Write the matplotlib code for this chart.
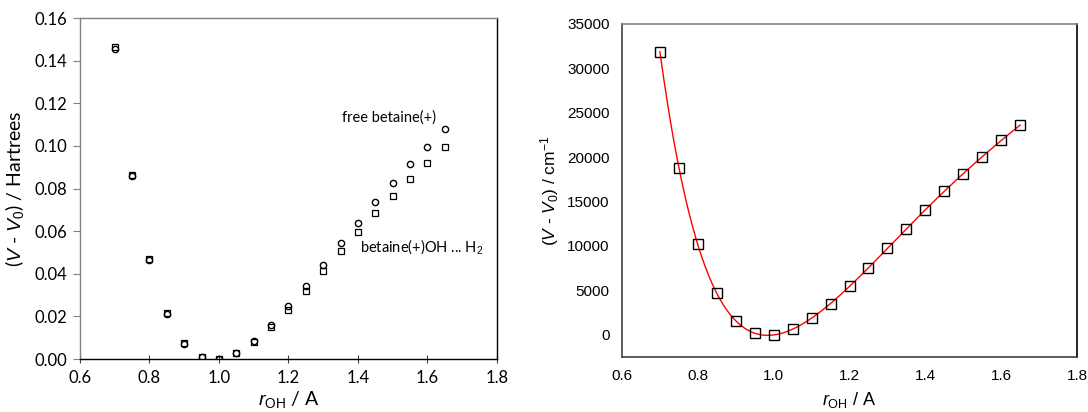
import numpy as np
import matplotlib
matplotlib.use('Agg')
import matplotlib.pyplot as plt

plt.rcParams['mathtext.fontset'] = 'custom'
plt.rcParams['mathtext.rm'] = 'Liberation Sans'
plt.rcParams['mathtext.it'] = 'Liberation Sans:italic'

r_oh = [0.70, 0.75, 0.80, 0.85, 0.90, 0.95, 1.00, 1.05, 1.10, 1.15,
        1.20, 1.25, 1.30, 1.35, 1.40, 1.45, 1.50, 1.55, 1.60, 1.65]

# Hartrees
free_betaine = [0.1455, 0.0858, 0.0465, 0.0213, 0.0072, 0.0010, 0.0000, 0.0028, 0.0083, 0.0158,
                0.0250, 0.0344, 0.0442, 0.0543, 0.0640, 0.0736, 0.0825, 0.0913, 0.0997, 0.1077]
betaine_h2 = [0.1462, 0.0865, 0.0470, 0.0218, 0.0074, 0.0011, 0.0000, 0.0026, 0.0080, 0.0150,
              0.0232, 0.0321, 0.0413, 0.0507, 0.0596, 0.0684, 0.0766, 0.0845, 0.0922, 0.0996]

# cm-1
betaine_h2_cm = [31880, 18800, 10190, 4660, 1540, 190, 0, 640, 1880, 3500,
                 5450, 7560, 9740, 11920, 14060, 16170, 18160, 20040, 21880, 23610]

fig = plt.figure(figsize=(10.88, 4.12), dpi=100)

# ---- left panel (Excel / Calibri look)
ax1 = fig.add_axes([0.0735, 0.1286, 0.3833, 0.8277])
lf = 'Lato'
ax1.plot(r_oh, free_betaine, 'o', ms=4.5, mfc='none', mec='black', mew=1.0)
ax1.plot(r_oh, betaine_h2, 's', ms=4.2, mfc='none', mec='black', mew=0.9)
ax1.set_xlim(0.6, 1.8)
ax1.set_ylim(0, 0.16)
ax1.set_xticks(np.arange(0.6, 1.81, 0.2))
ax1.set_yticks(np.arange(0, 0.161, 0.02))
ax1.set_xticklabels(['%.1f' % v for v in np.arange(0.6, 1.81, 0.2)], family=lf, fontsize=12)
ax1.set_yticklabels(['%.2f' % v for v in np.arange(0, 0.161, 0.02)], family=lf, fontsize=12)
ax1.tick_params(axis='x', direction='inout', length=6, width=0.8, color='#404040', pad=5)
ax1.tick_params(axis='y', direction='out', length=5, width=0.8, color='#808080', pad=4)
ax1.spines['top'].set_color('#808080')
ax1.spines['left'].set_color('#808080')
for s in ('bottom', 'right'):
    ax1.spines[s].set_color('black')
for s in ax1.spines.values():
    s.set_linewidth(1.0)
ax1.set_xlabel(r'$r_{\rm OH}$ / A', family=lf, fontsize=14, labelpad=2)
ax1.set_ylabel(r'($V$ - $V_0$) / Hartrees', family=lf, fontsize=14, labelpad=6)
ax1.text(1.355, 0.1115, 'free betaine(+)', family=lf, fontsize=10.5)
ax1.text(1.405, 0.0505, r'betaine(+)OH ... H$_2$', family=lf, fontsize=10.5)

# ---- right panel (Arial look)
ax2 = fig.add_axes([0.5717, 0.1335, 0.4182, 0.8083])
af = 'Liberation Sans'
coef = np.polyfit(r_oh, betaine_h2_cm, 8)
xf = np.linspace(r_oh[0], r_oh[-1], 400)
ax2.plot(xf, np.polyval(coef, xf), '-', color='red', lw=1.0)
ax2.plot(r_oh, betaine_h2_cm, 's', ms=7, mfc='none', mec='black', mew=1.0)
ax2.set_xlim(0.6, 1.8)
ax2.set_ylim(-2500, 35000)
ax2.set_xticks(np.arange(0.6, 1.81, 0.2))
ax2.set_yticks(np.arange(0, 35001, 5000))
ax2.set_xticklabels(['%.1f' % v for v in np.arange(0.6, 1.81, 0.2)], family=af, fontsize=11)
ax2.set_yticklabels(['%d' % v for v in np.arange(0, 35001, 5000)], family=af, fontsize=11)
ax2.tick_params(length=0, pad=9)
ax2.spines['top'].set_color('#808080')
ax2.spines['left'].set_color('#404040')
ax2.spines['bottom'].set_color('#404040')
ax2.spines['right'].set_color('black')
for s in ax2.spines.values():
    s.set_linewidth(1.2)
ax2.set_xlabel(r'$r_{\rm OH}$ / A', family=af, fontsize=13, labelpad=5)
ax2.set_ylabel(r'($V$ - $V_0$) / cm$^{-1}$', family=af, fontsize=12.5, labelpad=4)

fig.savefig('out.png', dpi=100)
